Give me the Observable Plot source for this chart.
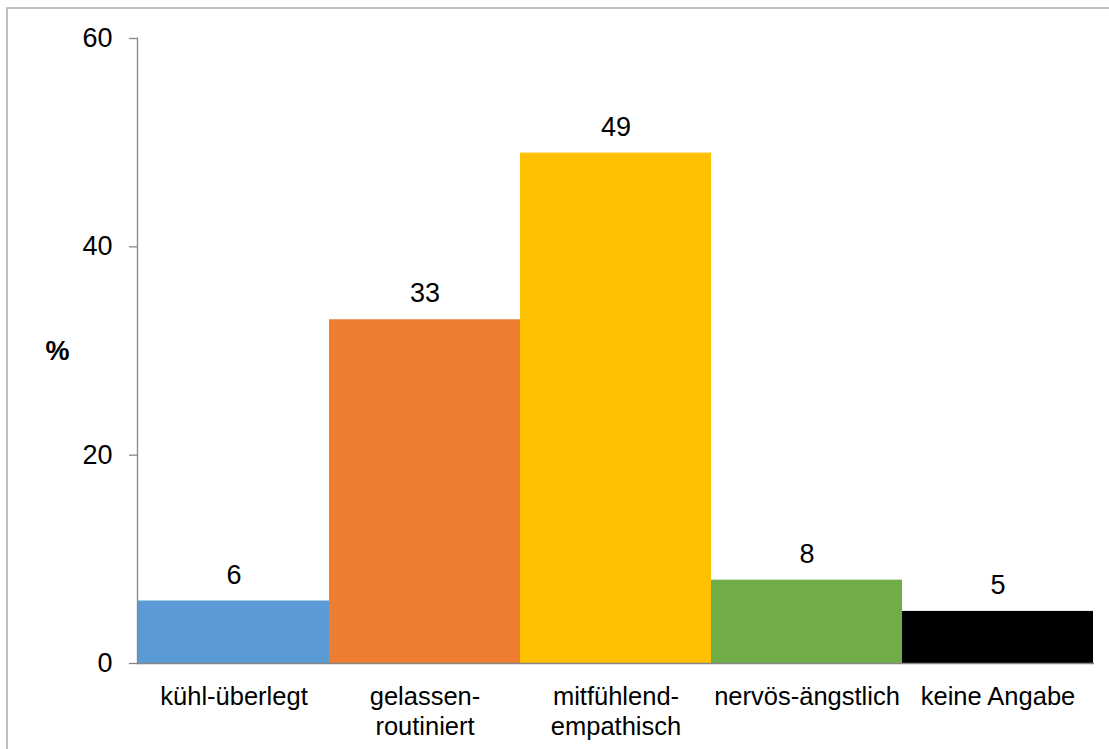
<!DOCTYPE html>
<html>
<head>
<meta charset="utf-8">
<script src="https://cdn.jsdelivr.net/npm/d3@7"></script>
<script src="https://cdn.jsdelivr.net/npm/@observablehq/plot@0.6"></script>
<style>
  html, body { margin: 0; padding: 0; background: #fff; overflow: hidden; }
  #wrap { position: relative; width: 1109px; height: 749px; }
  #border {
    position: absolute; left: 6px; top: 7px; right: 0; bottom: -10px;
    border-top: 2px solid #bfbfbf; border-left: 2px solid #bfbfbf;
  }
  #chart { position: absolute; left: 0; top: 0; }
  svg { font-family: "Liberation Sans", Arial, sans-serif; }
</style>
</head>
<body>
<div id="wrap"><div id="border"></div><div id="chart"></div></div>
<script>
// Categories, values (%) and bar colours
const categories = ["kühl-überlegt", "gelassen-routiniert", "mitfühlend-empathisch", "nervös-ängstlich", "keine Angabe"];
const tickLabels = ["kühl-überlegt", "gelassen-\nroutiniert", "mitfühlend-\nempathisch", "nervös-ängstlich", "keine Angabe"];
const values = [6, 33, 49, 8, 5];
const colors = ["#5b9bd5", "#ed7d31", "#ffc000", "#70ad47", "#000000"];
const yTicks = [0, 20, 40, 60];

const rows = categories.map((c, i) => ({category: c, value: values[i], color: colors[i], label: tickLabels[i]}));
const axisGray = "#868686";

const chart = Plot.plot({
  width: 1109,
  height: 749,
  marginLeft: 137,
  marginRight: 15,
  marginTop: 38,
  marginBottom: 86,
  style: {fontFamily: "Liberation Sans, Arial, sans-serif", color: "#000", background: "transparent"},
  x: {domain: categories, padding: 0, axis: null},
  y: {domain: [0, 60], ticks: yTicks, axis: null},
  marks: [
    Plot.barY(rows, {x: "category", y: "value", fill: "color"}),
    Plot.ruleY([0], {stroke: axisGray, strokeWidth: 1.3}),
    Plot.frame({anchor: "left", stroke: axisGray, strokeWidth: 1.3}),
    Plot.axisY({
      ticks: yTicks, tickSize: 8, tickPadding: 17, fontSize: 27,
      stroke: axisGray, strokeWidth: 1.3, label: null, fill: "#000"
    }),
    Plot.axisX({
      tickSize: 0, tickPadding: 21, fontSize: 25.5, lineHeight: 1.15,
      tickFormat: (d) => tickLabels[categories.indexOf(d)], label: null, fill: "#000"
    }),
    Plot.text(rows, {
      x: "category", y: "value", text: (d) => String(d.value),
      dy: -26, fontSize: 27, fill: "#000", textAnchor: "middle"
    }),
    Plot.text(["%"], {
      frameAnchor: "left", dx: -80, text: (d) => d,
      fontSize: 27, fontWeight: "bold", fill: "#000", textAnchor: "middle"
    })
  ]
});
document.getElementById("chart").appendChild(chart);
</script>
</body>
</html>
